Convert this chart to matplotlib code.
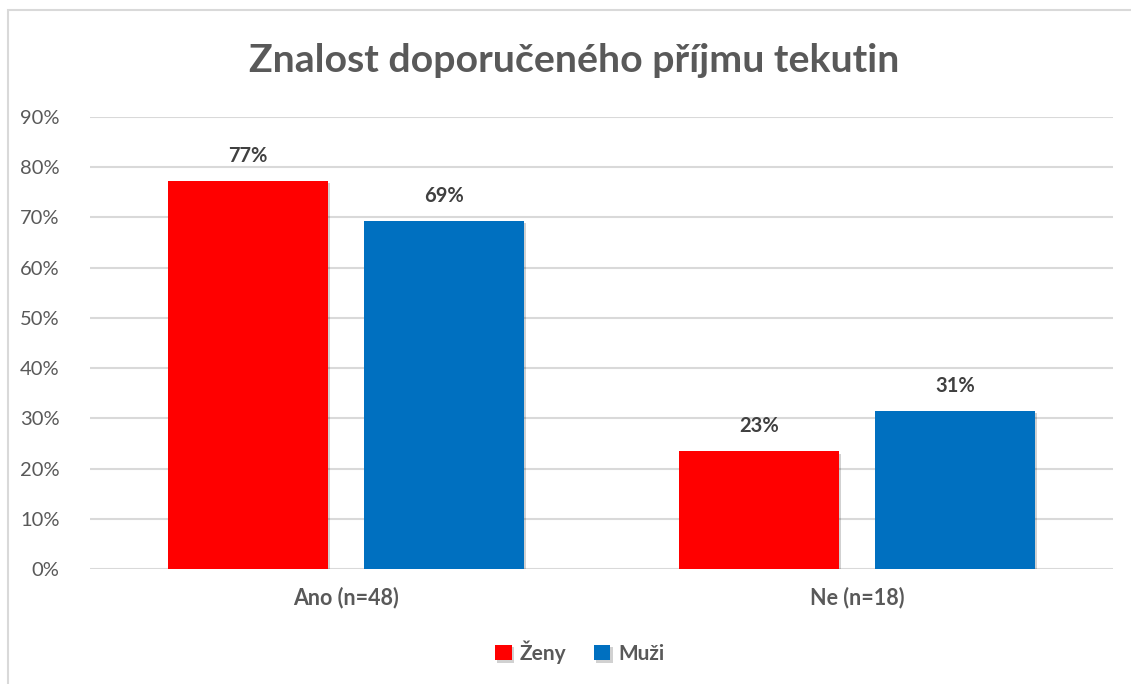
import matplotlib
matplotlib.use("Agg")
import matplotlib.pyplot as plt
import matplotlib.patheffects as pe
from matplotlib.patches import Rectangle
import numpy as np

categories = ["Ano (n=48)", "Ne (n=18)"]
series_names = ["Ženy", "Muži"]
zeny = [77.3, 23.4]
muzi = [69.3, 31.5]
zeny_labels = ["77%", "23%"]
muzi_labels = ["69%", "31%"]
colors = ["#FF0000", "#0070C0"]
yticks = [0, 10, 20, 30, 40, 50, 60, 70, 80, 90]

plt.rcParams['font.family'] = ['Lato', 'DejaVu Sans']
W, H = 1131, 684
fig = plt.figure(figsize=(W/100, H/100), dpi=100)
fig.patch.set_facecolor("white")

# outer frame
fig.add_artist(Rectangle((8/W, -0.01), 1.1, (H-10)/H + 0.01, transform=fig.transFigure,
                         fill=False, edgecolor="#D9D9D9", linewidth=1.5))

x0, x1 = 90/W, 1113/W
y0 = 1 - 569/H
ytop = 1 - 117/H
ax = fig.add_axes([x0, y0, x1 - x0, ytop - y0])
ax.set_xlim(-0.5, 1.5)
ax.set_ylim(0, 90)

x = np.arange(len(categories))
bw = 0.313
off = 0.1915
shadow = [pe.SimplePatchShadow(offset=(1.5, -1.5), shadow_rgbFace="#000000", alpha=0.18), pe.Normal()]
for vals, labs, col, sgn, name in [(zeny, zeny_labels, colors[0], -1, series_names[0]),
                                    (muzi, muzi_labels, colors[1], 1, series_names[1])]:
    bars = ax.bar(x + sgn*off, vals, width=bw, color=col, label=name, zorder=3)
    for b in bars:
        b.set_path_effects(shadow)
    for b, lab in zip(bars, labs):
        ax.text(b.get_x() + b.get_width()/2, b.get_height() + 3.0, lab,
                ha="center", va="bottom", fontsize=14.5, fontweight="bold", color="#404040")

ax.set_yticks(yticks)
ax.set_yticklabels([f"{v}%" for v in yticks], fontsize=14.5, color="#595959")
ax.set_xticks(x)
ax.set_xticklabels(categories, fontsize=15.5, fontweight="bold", color="#595959")
ax.tick_params(axis="both", length=0)
ax.tick_params(axis="y", pad=22)
ax.tick_params(axis="x", pad=13)
ax.grid(axis="y", color="#D9D9D9", linewidth=1.5, zorder=0)
ax.set_axisbelow(True)
for s in ax.spines.values():
    s.set_visible(False)

fig.text(574/W, 1 - 61/H, "Znalost doporučeného příjmu tekutin", ha="center", va="center",
         fontsize=28.3, fontweight="bold", color="#595959")

leg = fig.legend(loc="center", bbox_to_anchor=(580/W, 1 - 652/H), ncol=2, frameon=False,
                 fontsize=15, handlelength=0.8, handleheight=0.8, handletextpad=0.4,
                 columnspacing=1.3)
for t in leg.get_texts():
    t.set_fontweight("bold")
    t.set_color("#595959")

fig.savefig("out.png", dpi=100, facecolor="white")
